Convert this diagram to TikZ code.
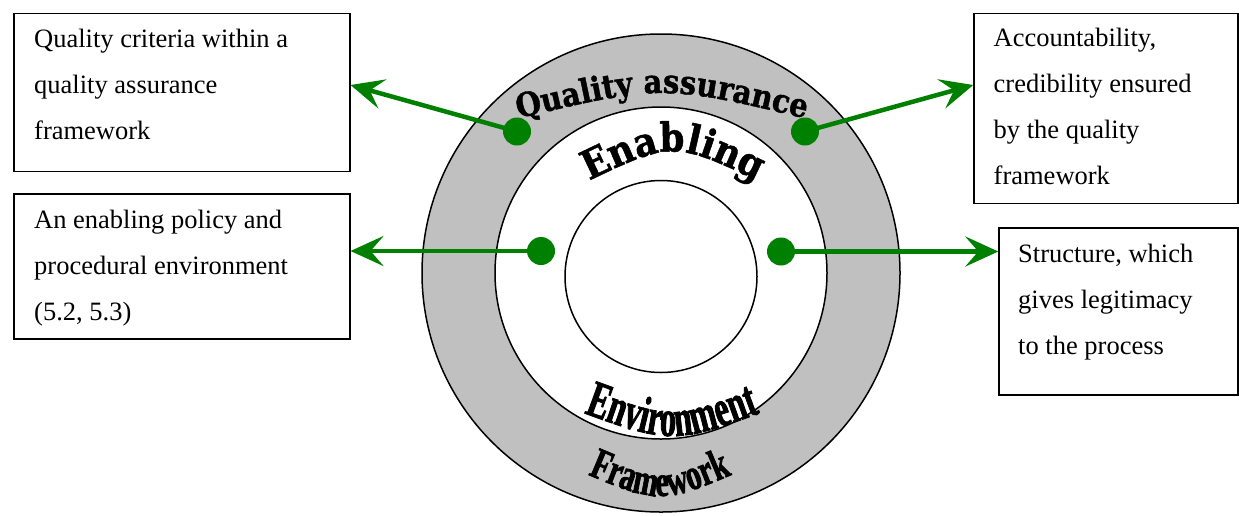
\documentclass[tikz,border=0pt]{standalone}
\usepackage{fontspec}
\setmainfont{Liberation Serif}
\newfontfamily\qafont[FakeStretch=0.88,FakeBold=1.2]{DejaVu Serif}
\newfontfamily\enfont[FakeStretch=0.89,FakeBold=1.2]{DejaVu Serif}
\newfontfamily\envfont[FakeStretch=0.62,FakeBold=1.5]{Liberation Serif}
\newfontfamily\frmfont[FakeStretch=0.68,FakeBold=1.5]{Liberation Serif}
\usetikzlibrary{arrows.meta,decorations.text,calc}
\definecolor{gr}{HTML}{008000}
\definecolor{ringgray}{HTML}{C0C0C0}
\tikzset{
  boxnode/.style={draw=black, line width=1.5pt, rectangle, inner sep=0pt, anchor=north west},
  boxtext/.style={anchor=base west, align=left, inner sep=0pt, font=\fontsize{26.5}{46}\selectfont},
  ringline/.style={draw=black, line width=1.5pt},
  dotnode/.style={circle, fill=gr, minimum size=28pt, inner sep=0pt},
  arr/.style={draw=gr, line width=4.5pt, -{Stealth[length=33pt,width=30pt,inset=13pt]}},
}
\begin{document}
\begin{tikzpicture}[x=1pt,y=-1pt]
\useasboundingbox (0,0) rectangle (1239,515);
% rings
\draw[ringline, fill=ringgray] (661,273) circle (239);
\draw[ringline, fill=white] (661,273) circle (166);
\draw[ringline, fill=white] (661,276.5) circle (96);
% curved texts
\path[decorate, decoration={text along path, text align={center},
  text={|\qafont\bfseries\fontsize{33}{33}\selectfont|Quality assurance}}]
  (512,120) .. controls (662,84) .. (812,120);
\path[decorate, decoration={text along path, text align={center},
  text={|\enfont\bfseries\fontsize{40}{40}\selectfont|Enabling}}]
  (578,186) .. controls (673,140) .. (768,186);
\path[decorate, decoration={text along path, text align={center},
  text={|\envfont\bfseries\fontsize{52}{52}\selectfont|Environment}}]
  (565,406) .. controls (672,446) .. (779,406);
\path[decorate, decoration={text along path, text align={center},
  text={|\frmfont\bfseries\fontsize{44}{44}\selectfont|Framework}}]
  (568,466) .. controls (660,506) .. (752,466);
% boxes
\node[boxnode, minimum width=336pt, minimum height=158pt] (b1) at (13,12.7) {};
\node[boxnode, minimum width=336pt, minimum height=145pt] (b2) at (13,193.3) {};
\node[boxnode, minimum width=264pt, minimum height=190pt] (b3) at (973.3,12.7) {};
\node[boxnode, minimum width=239pt, minimum height=167pt] (b4) at (998.3,227) {};
\node[boxtext] (t1) at (34,139.3) {Quality criteria within a\\quality assurance\\framework};
\node[boxtext] (t2) at (34,320.3) {An enabling policy and\\procedural environment\\(5.2, 5.3)};
\node[boxtext] (t3) at (993.5,184) {Accountability,\\credibility ensured\\by the quality\\framework};
\node[boxtext] (t4) at (1018,354.7) {Structure, which\\gives legitimacy\\to the process};
% arrow ends on the boxes
\coordinate (e1) at (b1.east |- 0,85);
\coordinate (e2) at (b2.east |- 0,251);
\coordinate (e3) at (b3.west |- 0,85);
\coordinate (e4) at (b4.west |- 0,251.5);
% dots
\node[dotnode] (d1) at (517,131.5) {};
\node[dotnode] (d2) at (541,251) {};
\node[dotnode] (d3) at (805,131.5) {};
\node[dotnode] (d4) at (781,251.5) {};
% arrows
\draw[arr] (d1.center) -- (e1);
\draw[arr] (d2.center) -- (e2);
\draw[arr] (d3.center) -- (e3);
\draw[arr] (d4.center) -- (e4);
\end{tikzpicture}
\end{document}
